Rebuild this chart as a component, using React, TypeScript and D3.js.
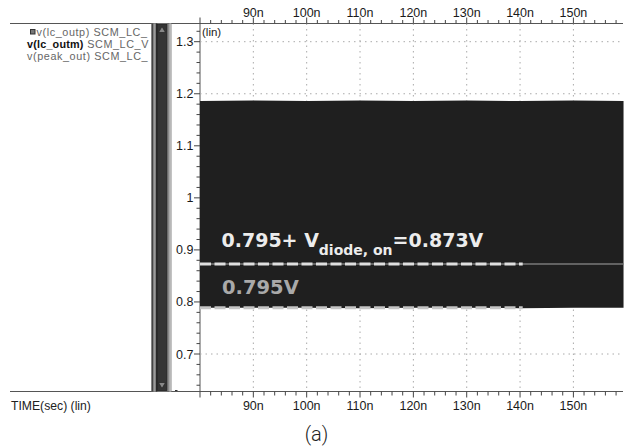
import React from "react";
import * as d3 from "d3";

const timeTicks = [90, 100, 110, 120, 130, 140, 150];
const timeTickLabels = ["90n", "100n", "110n", "120n", "130n", "140n", "150n"];
const voltTicks = [0.7, 0.8, 0.9, 1.0, 1.1, 1.2, 1.3];
const voltTickLabels = ["0.7", "0.8", "0.9", "1", "1.1", "1.2", "1.3"];
const legendLabels = ["v(lc_outp) SCM_LC_", "v(lc_outm) SCM_LC_V", "v(peak_out) SCM_LC_"];
const legendNames = ["v(lc_outp)", "v(lc_outm)", "v(peak_out)"];

// envelope of the fast oscillating lc_outp / lc_outm signal (ns, V)
const envTime = [80, 90, 100, 110, 120, 130, 140, 150, 159.4];
const envMax = [1.186, 1.187, 1.186, 1.187, 1.186, 1.187, 1.186, 1.187, 1.186];
const envMin = [0.789, 0.789, 0.789, 0.788, 0.789, 0.789, 0.788, 0.789, 0.789];
// peak detector output
const peakTime = [80, 159.4];
const peakVal = [0.873, 0.873];
// annotation reference lines
const refValues = [0.873, 0.789];
const refEnd = 140.5;

const W = 627, H = 448;
const X0 = 200, X1 = 623, YTOP = 23.5, YBOT = 391.5;
const font = "'Liberation Sans', Arial, sans-serif";
const annoFont = "'DejaVu Sans', Verdana, sans-serif";

export default function App() {
  const x = d3.scaleLinear().domain([80, 159.3]).range([X0, X1]);
  const y = d3.scaleLinear().domain([0.7, 1.3]).range([354, 41.7]);

  const area = d3
    .area<number>()
    .x((_, i) => x(envTime[i]))
    .y0((_, i) => y(envMin[i]))
    .y1((_, i) => y(envMax[i]));
  const peakLine = d3
    .line<number>()
    .x((_, i) => x(peakTime[i]))
    .y((d) => y(d));

  const minorX = d3.range(80, 159.4, 2);
  const minorY = d3.range(0.64, 1.34, 0.02);

  return (
    <svg width={W} height={H} style={{ position: "absolute", left: 0, top: 0, background: "#fff" }}>
      <defs>
        <clipPath id="legclip">
          <rect x={0} y={24} width={150} height={60} />
        </clipPath>
        <clipPath id="plotclip">
          <rect x={X0} y={YTOP} width={X1 - X0 + 4} height={YBOT - YTOP} />
        </clipPath>
      </defs>
      {/* frame lines */}
      <line x1={10} x2={X1} y1={YTOP} y2={YTOP} stroke="#555" strokeWidth={1} />
      <line x1={10} x2={X1} y1={YBOT} y2={YBOT} stroke="#555" strokeWidth={1} />
      <line x1={X0} x2={X0} y1={YTOP} y2={YBOT} stroke="#555" strokeWidth={1} />

      {/* grid */}
      {timeTicks.map((t) => (
        <line key={"gx" + t} x1={x(t)} x2={x(t)} y1={YTOP} y2={YBOT} stroke="#aaa" strokeWidth={1} strokeDasharray="1.5,4" />
      ))}
      {voltTicks.map((v) => (
        <line key={"gy" + v} x1={X0} x2={X1} y1={y(v)} y2={y(v)} stroke="#aaa" strokeWidth={1} strokeDasharray="1.5,4" />
      ))}

      {/* data */}
      <g clipPath="url(#plotclip)">
        <path d={area(envTime) || ""} fill="#1f1f1f" />
        <path d={peakLine(peakVal) || ""} stroke="#7a7a7a" strokeWidth={1.5} fill="none" />
        {refValues.map((v, i) => (
          <line
            key={"ref" + i}
            x1={X0}
            x2={x(refEnd)}
            y1={y(v)}
            y2={y(v)}
            stroke={i === 0 ? "#dedede" : "#c4c4c4"}
            strokeWidth={3}
            strokeDasharray="11,3.5"
          />
        ))}
      </g>

      {/* annotations */}
      <text x={221.5} y={247.3} fill="#ececec" fontFamily={annoFont} fontWeight="bold" fontSize={19}>
        0.795+ V
        <tspan fontSize={14} dy={7.5}>diode, on</tspan>
        <tspan dy={-7.5}>=0.873V</tspan>
      </text>
      <text x={222} y={294} fill="#a9a9a9" fontFamily={annoFont} fontWeight="bold" fontSize={19.5}>
        0.795V
      </text>

      {/* top axis */}
      {minorX.map((t) => (
        <line key={"tx" + t} x1={x(t)} x2={x(t)} y1={YTOP} y2={YTOP - (t % 10 === 0 ? 6 : 3.5)} stroke="#444" strokeWidth={1} />
      ))}
      {minorX.map((t) => (
        <line key={"bx" + t} x1={x(t)} x2={x(t)} y1={YBOT} y2={YBOT + (t % 10 === 0 ? 6 : 4)} stroke="#444" strokeWidth={1} />
      ))}
      {timeTicks.map((t, i) => (
        <g key={"lx" + t}>
          <text x={x(t)} y={16.5} textAnchor="middle" fontFamily={font} fontSize={12.5} fill="#1a1a1a">
            {timeTickLabels[i]}
          </text>
          <text x={x(t)} y={409.5} textAnchor="middle" fontFamily={font} fontSize={12.5} fill="#1a1a1a">
            {timeTickLabels[i]}
          </text>
        </g>
      ))}

      {/* y axis */}
      {minorY.map((v, i) => {
        const yy = y(v);
        if (yy < YTOP || yy > YBOT) return null;
        const major = Math.abs(Math.round(v * 10) - v * 10) < 1e-6;
        return <line key={"ty" + i} x1={X0} x2={X0 - (major ? 6 : 3.5)} y1={yy} y2={yy} stroke="#444" strokeWidth={1} />;
      })}
      {voltTicks.map((v, i) => (
        <text key={"ly" + v} x={193.5} y={y(v) + 4.5} textAnchor="end" fontFamily={font} fontSize={12.5} fill="#1a1a1a">
          {voltTickLabels[i]}
        </text>
      ))}
      <text x={202} y={36} fontFamily={font} fontSize={11.5} fill="#222">(lin)</text>

      {/* legend */}
      <g clipPath="url(#legclip)" fontFamily={font} fontSize={10.8} letterSpacing={0.6}>
        <rect x={30.5} y={29.5} width={4.5} height={4.5} fill="#777" stroke="#333" strokeWidth={1} />
        {legendLabels.map((lab, i) => {
          const name = legendNames[i];
          const rest = lab.slice(name.length);
          return (
            <text key={"lg" + i} x={i === 0 ? 36.5 : 27} y={35.5 + i * 12} fill="#666">
              <tspan fill={i === 1 ? "#111" : "#666"} fontWeight={i === 1 ? "bold" : "normal"} letterSpacing={i === 1 ? 0.2 : 0.6}>{name}</tspan>
              {rest}
            </text>
          );
        })}
      </g>

      {/* scrollbar */}
      <rect x={151.5} y={YTOP} width={20} height={YBOT - YTOP} fill="#8a8a8a" />
      <rect x={151.5} y={YTOP} width={2} height={YBOT - YTOP} fill="#444" />
      <rect x={153.5} y={YTOP} width={2.3} height={YBOT - YTOP} fill="#9c9c9c" />
      <rect x={155.8} y={YTOP} width={1.5} height={YBOT - YTOP} fill="#2a2a2a" />
      <rect x={157.3} y={YTOP + 1} width={9.6} height={YBOT - YTOP - 2} fill="#353535" stroke="#222" strokeWidth={0.8} />
      <rect x={169.3} y={YTOP} width={1.8} height={YBOT - YTOP} fill="#b8b8b8" />
      <path d={`M162,${YTOP + 3} L158.5,${YTOP + 9} L165.5,${YTOP + 9} Z`} fill="#888" stroke="#222" strokeWidth={0.7} />
      <path d={`M162,${YBOT - 3} L158.5,${YBOT - 9} L165.5,${YBOT - 9} Z`} fill="#888" stroke="#222" strokeWidth={0.7} />
      <line x1={175} x2={177.5} y1={YBOT - 1} y2={YBOT - 1} stroke="#333" strokeWidth={1} />

      <text x={11} y={409.5} fontFamily={font} fontSize={12.2} fill="#222">TIME(sec) (lin)</text>
      <text x={316.5} y={441} textAnchor="middle" fontFamily="Roboto, sans-serif" fontWeight={300} fontSize={20} fill="#222">(a)</text>
    </svg>
  );
}
